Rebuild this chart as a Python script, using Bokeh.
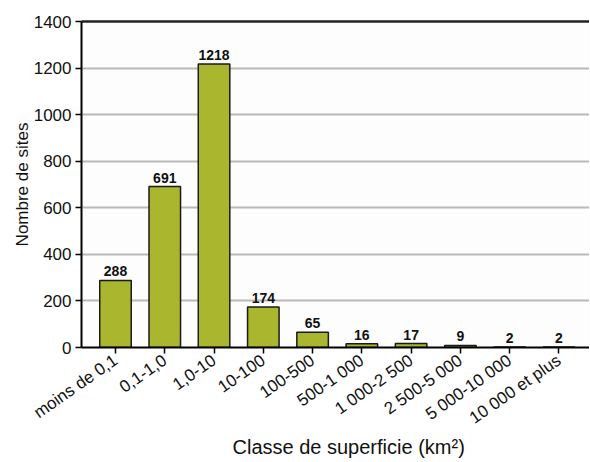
from bokeh.plotting import figure
from bokeh.models import ColumnDataSource, FixedTicker, LinearAxis, Range1d, Title
from bokeh.embed import file_html
from bokeh.resources import INLINE
from bokeh.core.properties import value
import math

categories = ["moins de 0,1", "0,1-1,0", "1,0-10", "10-100", "100-500", "500-1 000",
              "1 000-2 500", "2 500-5 000", "5 000-10 000", "10 000 et plus"]
counts = [288, 691, 1218, 174, 65, 16, 17, 9, 2, 2]
y_ticks = [0, 200, 400, 600, 800, 1000, 1200, 1400]

xs = list(range(len(categories)))
src = ColumnDataSource(dict(x=xs, top=counts, label=[str(c) for c in counts]))

p = figure(width=589, height=461, output_backend="svg", toolbar_location=None,
           x_range=Range1d(-0.69, 9.62), y_range=Range1d(0, 1400),
           min_border_left=81, min_border_right=0, min_border_top=21, min_border_bottom=114)
p.background_fill_color = "#fdfdfd"
p.border_fill_color = "#ffffff"
p.outline_line_color = None

p.vbar(x="x", top="top", width=0.64, source=src, fill_color="#a9b62e",
       line_color="#1a1a1a", line_width=1.5)
p.text(x="x", y="top", text="label", source=src, text_align="center",
       text_baseline="bottom", y_offset=-4, text_font=value("Liberation Sans"),
       text_font_style="bold", text_font_size="14px", text_color="#111111")

# axes
p.xaxis.ticker = FixedTicker(ticks=xs)
p.xaxis.major_label_overrides = {i: c for i, c in enumerate(categories)}
p.xaxis.major_label_orientation = math.radians(35)
p.xaxis.minor_tick_line_color = None
p.xaxis.major_tick_in = 0
p.xaxis.major_tick_out = 6
p.xaxis.axis_line_width = 2
p.xaxis.major_tick_line_width = 1.5
p.xaxis.major_label_text_font = "Liberation Sans"
p.xaxis.major_label_text_font_size = "17px"
p.xaxis.major_label_text_color = "#111111"

x_title = Title(text="Classe de superficie (km²)", align="left",
                text_font="Liberation Sans", text_font_size="20px",
                text_font_style="normal", text_color="#111111",
                standoff=-10, offset=151)
p.add_layout(x_title, "below")

p.yaxis.ticker = FixedTicker(ticks=y_ticks)
p.yaxis.minor_tick_line_color = None
p.yaxis.major_tick_in = 0
p.yaxis.major_tick_out = 6
p.yaxis.axis_line_width = 2
p.yaxis.major_tick_line_width = 1.5
p.yaxis.major_label_standoff = 4
p.yaxis.major_label_text_font = "Liberation Sans"
p.yaxis.major_label_text_font_size = "17px"
p.yaxis.major_label_text_color = "#111111"
p.yaxis.axis_label = "Nombre de sites"
p.yaxis.axis_label_text_font = "Liberation Sans"
p.yaxis.axis_label_text_font_style = "normal"
p.yaxis.axis_label_text_font_size = "17px"
p.yaxis.axis_label_text_color = "#111111"
p.yaxis.axis_label_standoff = -1

top_axis = LinearAxis(ticker=FixedTicker(ticks=[]), major_label_text_font_size="0px",
                      axis_line_width=2.5, axis_line_color="#222222")
top_axis.major_tick_line_color = None
top_axis.minor_tick_line_color = None
p.add_layout(top_axis, "above")

p.xgrid.grid_line_color = None
p.ygrid.grid_line_color = "#bdb8b8"
p.ygrid.grid_line_width = 2

open("out.html", "w").write(file_html(p, INLINE))
